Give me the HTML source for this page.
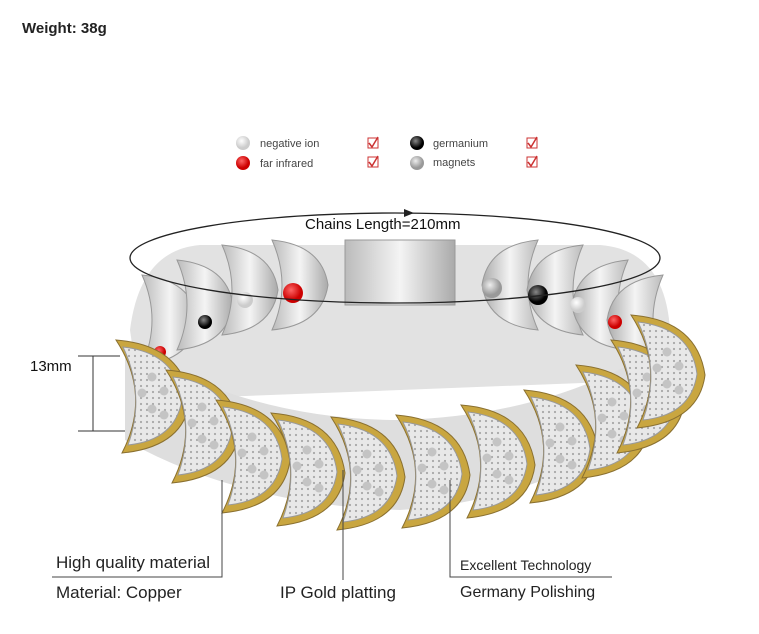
<!DOCTYPE html>
<html><head><meta charset="utf-8"><style>
body{margin:0;background:#fff;}
svg{display:block;font-family:"Liberation Sans",sans-serif;}
</style></head><body>
<svg width="759" height="634" viewBox="0 0 759 634" xmlns="http://www.w3.org/2000/svg">
<defs>
<radialGradient id="w" cx="40%" cy="35%"><stop offset="0" stop-color="#fff"/><stop offset="1" stop-color="#ccc"/></radialGradient>
<radialGradient id="r" cx="40%" cy="35%"><stop offset="0" stop-color="#f66"/><stop offset="1" stop-color="#c00"/></radialGradient>
<radialGradient id="k" cx="40%" cy="35%"><stop offset="0" stop-color="#888"/><stop offset="1" stop-color="#000"/></radialGradient>
<radialGradient id="m" cx="40%" cy="35%"><stop offset="0" stop-color="#eee"/><stop offset="1" stop-color="#999"/></radialGradient>
<linearGradient id="s" x1="0" y1="0" x2="1" y2="0"><stop offset="0" stop-color="#bbb"/><stop offset=".5" stop-color="#f4f4f4"/><stop offset="1" stop-color="#aaa"/></linearGradient>
<pattern id="dots" width="6" height="6" patternUnits="userSpaceOnUse"><rect width="6" height="6" fill="#e8e8e8"/><circle cx="3" cy="3" r="1.1" fill="#a8a8a8"/></pattern>
<g id="lnk"><path d="M-34,-55 Q32,-50 40,5 Q34,52 -28,58 Q2,0 -34,-55Z" fill="#c9a640" stroke="#8a7030" stroke-width="1"/><path d="M-27,-48 Q26,-42 32,4 Q26,45 -22,50 Q-4,0 -27,-48Z" fill="url(#dots)" stroke="#9a9a9a" stroke-width="1"/><circle cx="2" cy="-18" r="4.5" fill="#c4c4c4"/><circle cx="14" cy="-4" r="4.5" fill="#c4c4c4"/><circle cx="2" cy="14" r="4.5" fill="#c4c4c4"/><circle cx="-8" cy="-2" r="4.5" fill="#c4c4c4"/><circle cx="14" cy="20" r="4.5" fill="#c4c4c4"/></g>
<g id="blk"><path d="M-28,-45 Q22,-40 28,0 Q22,40 -28,45 Q-8,0 -28,-45Z" fill="url(#s)" stroke="#999"/></g>
</defs>
<text x="22" y="33" font-size="15" font-weight="bold" fill="#222">Weight: 38g</text>
<circle cx="243" cy="143" r="7" fill="url(#w)"/><text x="260" y="147" font-size="11" fill="#444">negative ion</text>
<circle cx="243" cy="163" r="7" fill="url(#r)"/><text x="260" y="167" font-size="11" fill="#444">far infrared</text>
<circle cx="417" cy="143" r="7" fill="url(#k)"/><text x="433" y="147" font-size="11" fill="#444">germanium</text>
<circle cx="417" cy="163" r="7" fill="url(#m)"/><text x="433" y="166" font-size="11" fill="#444">magnets</text>
<g fill="none" stroke="#c33" stroke-width="1"><rect x="368" y="138" width="10" height="10"/><rect x="368" y="157" width="10" height="10"/><rect x="527" y="138" width="10" height="10"/><rect x="527" y="157" width="10" height="10"/></g>
<g fill="none" stroke="#c33" stroke-width="1.5"><path d="M369,143l3,4l6,-10M369,162l3,4l6,-10M528,143l3,4l6,-10M528,162l3,4l6,-10"/></g>
<path d="M130,330 Q140,250 200,245 L600,245 Q665,250 670,330 L660,380 L140,400Z" fill="#e2e2e2"/>
<use href="#blk" x="170" y="320"/><use href="#blk" x="205" y="305"/><use href="#blk" x="250" y="290"/><use href="#blk" x="300" y="285"/>
<rect x="345" y="240" width="110" height="65" fill="url(#s)" stroke="#999"/>
<g transform="translate(800,0) scale(-1,1)"><use href="#blk" x="290" y="285"/><use href="#blk" x="245" y="290"/><use href="#blk" x="200" y="305"/><use href="#blk" x="165" y="320"/></g>
<circle cx="293" cy="293" r="10" fill="url(#r)"/><circle cx="245" cy="300" r="8" fill="url(#w)"/><circle cx="205" cy="322" r="7" fill="url(#k)"/><circle cx="160" cy="352" r="6" fill="url(#r)"/>
<circle cx="492" cy="288" r="10" fill="url(#m)"/><circle cx="538" cy="295" r="10" fill="url(#k)"/><circle cx="578" cy="305" r="8" fill="url(#w)"/><circle cx="615" cy="322" r="7" fill="url(#r)"/>
<path d="M125,345 Q250,420 400,420 Q560,415 670,340 L680,400 Q560,500 400,510 Q240,505 125,440Z" fill="#dedede"/>
<use href="#lnk" x="150" y="395"/><use href="#lnk" x="200" y="425"/><use href="#lnk" x="250" y="455"/><use href="#lnk" x="305" y="468"/><use href="#lnk" x="365" y="472"/><use href="#lnk" x="430" y="470"/><use href="#lnk" x="495" y="460"/><use href="#lnk" x="558" y="445"/><use href="#lnk" x="610" y="420"/><use href="#lnk" x="645" y="395"/><use href="#lnk" x="665" y="370"/>
<ellipse cx="395" cy="258" rx="265" ry="45" fill="none" stroke="#222" stroke-width="1.3"/>
<path d="M404,209 L414,213 L404,217Z" fill="#222"/>
<text x="305" y="229" font-size="15" fill="#111">Chains Length=210mm</text>
<g stroke="#333" stroke-width="1"><line x1="78" y1="356" x2="120" y2="356"/><line x1="78" y1="431" x2="125" y2="431"/><line x1="93" y1="356" x2="93" y2="431"/></g>
<text x="30" y="371" font-size="15" fill="#111">13mm</text>
<g stroke="#444" stroke-width="1" fill="none"><path d="M52,577 H222 V480"/><path d="M343,470 V580"/><path d="M450,480 V577 H612"/></g>
<text x="56" y="568" font-size="17" fill="#222">High quality material</text>
<text x="56" y="598" font-size="17" fill="#222">Material: Copper</text>
<text x="280" y="598" font-size="17" fill="#222">IP Gold platting</text>
<text x="460" y="570" font-size="14" fill="#222">Excellent Technology</text>
<text x="460" y="597" font-size="16" fill="#222">Germany Polishing</text>
</svg>
</body></html>
